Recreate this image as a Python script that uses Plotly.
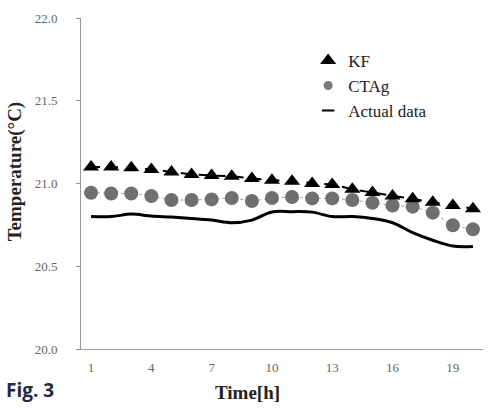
import plotly.graph_objects as go

hours = list(range(1, 21))
kf = [21.10, 21.10, 21.095, 21.085, 21.07, 21.055, 21.048, 21.044, 21.03, 21.02,
      21.014, 21.0, 20.994, 20.965, 20.945, 20.925, 20.908, 20.887, 20.867, 20.848]
ctag = [20.944, 20.94, 20.94, 20.924, 20.90, 20.90, 20.904, 20.912, 20.894, 20.912,
        20.918, 20.91, 20.91, 20.90, 20.884, 20.867, 20.86, 20.824, 20.747, 20.723]
actual = [20.80, 20.80, 20.815, 20.803, 20.797, 20.789, 20.779, 20.763, 20.779, 20.828,
          20.83, 20.827, 20.80, 20.80, 20.789, 20.763, 20.703, 20.657, 20.622, 20.62]
x_ticks = [1, 4, 7, 10, 13, 16, 19]
y_ticks = [20.0, 20.5, 21.0, 21.5, 22.0]

serif = "Liberation Serif, Times New Roman, serif"

fig = go.Figure()
fig.add_trace(go.Scatter(x=hours, y=actual, mode="lines", line=dict(color="black", width=3, shape="spline"),
                         showlegend=False, name="Actual data"))
fig.add_trace(go.Scatter(x=hours, y=kf, mode="lines", line=dict(color="black", width=2, dash="dash"),
                         showlegend=False, hoverinfo="skip"))
fig.add_trace(go.Scatter(x=hours, y=ctag, mode="lines", line=dict(color="#a0a0a0", width=1, dash="dot"),
                         showlegend=False, hoverinfo="skip"))
fig.add_trace(go.Scatter(x=hours, y=ctag, mode="markers", name="CTAg",
                         marker=dict(symbol="circle", size=14, color="#6f6f6f"), showlegend=False))
fig.add_trace(go.Scatter(x=hours, y=kf, mode="markers", name="KF",
                         marker=dict(symbol="triangle-up", size=14, color="black")))
fig.add_trace(go.Scatter(x=[None], y=[None], mode="markers", name="CTAg",
                         marker=dict(symbol="circle", size=9, color="#7a7a7a")))
fig.add_trace(go.Scatter(x=[None], y=[None], mode="markers", name="Actual data",
                         marker=dict(symbol="line-ew", size=9, line=dict(color="black", width=2))))

fig.update_layout(
    width=488, height=409,
    margin=dict(l=81, r=5, t=18, b=60),
    plot_bgcolor="white", paper_bgcolor="white",
    showlegend=True,
    legend=dict(x=0.565, y=0.925, xanchor="left", yanchor="top", bgcolor="rgba(0,0,0,0)",
                font=dict(family=serif, size=17, color="#222"), tracegroupgap=0, itemsizing="trace"),
    xaxis=dict(range=[0.5, 20.5], tickmode="array", tickvals=x_ticks, ticktext=[str(v) for v in x_ticks],
               showline=True, linecolor="#999", linewidth=1, showgrid=False, zeroline=False,
               ticks="", ticklabelstandoff=6, tickfont=dict(family=serif, size=13, color="#666")),
    yaxis=dict(range=[20.0, 22.0], tickmode="array", tickvals=y_ticks, ticktext=[f"{v:.1f}" for v in y_ticks],
               showline=True, linecolor="#999", linewidth=1, showgrid=False, zeroline=False,
               ticks="outside", ticklen=4, tickcolor="#999", ticklabelstandoff=16,
               tickfont=dict(family=serif, size=13, color="#666")),
)
fig.add_annotation(text="<b>Time[h]</b>", xref="paper", yref="paper", x=0.415, y=-0.13,
                   xanchor="center", yanchor="middle", showarrow=False,
                   font=dict(family=serif, size=19, color="#222"))
fig.add_annotation(text="<b>Temperature(°C)</b>", xref="paper", yref="paper", x=-0.164, y=0.537,
                   xanchor="center", yanchor="middle", showarrow=False, textangle=-90,
                   font=dict(family=serif, size=19, color="#222"))
fig.add_annotation(text="<b>Fig. 3</b>", xref="paper", yref="paper", x=-0.192, y=-0.125,
                   xanchor="left", yanchor="middle", showarrow=False,
                   font=dict(family="Open Sans, DejaVu Sans, sans-serif", size=19, color="#1f2a44"))

fig.write_html("out.html")
